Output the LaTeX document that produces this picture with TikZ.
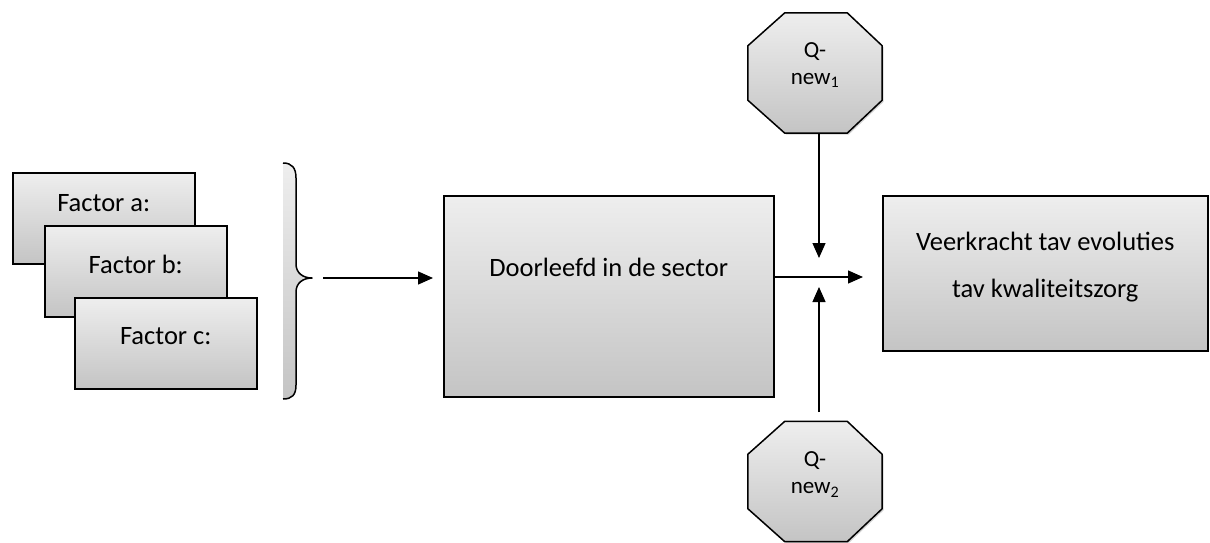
\documentclass[tikz,border=0pt]{standalone}
\usepackage{fontspec}
\setmainfont{Carlito}
\usetikzlibrary{arrows.meta,shadows}
\definecolor{boxtop}{RGB}{238,238,238}
\definecolor{boxbot}{RGB}{196,196,196}
\tikzset{
  panel/.style={draw=black, line width=1.5pt, top color=boxtop, bottom color=boxbot,
    drop shadow={shadow xshift=1.5pt, shadow yshift=-1.5pt, opacity=0.35},
    inner sep=0pt},
  factorbox/.style={panel, rectangle, minimum width=182pt, minimum height=91pt, anchor=north west},
  octoframe/.style={rectangle, minimum width=134pt, minimum height=120pt, inner sep=0pt},
  lbl/.style={font=\fontsize{26.5}{30}\selectfont, inner sep=0pt, align=center},
  qlbl/.style={font=\fontsize{23}{27}\selectfont, inner sep=0pt, align=center},
  link/.style={draw=black, line width=1.3pt, -{Triangle[length=15pt,width=13pt]}},
}
% octagon drawn around a named frame node
\newcommand{\octagonaround}[1]{%
  \draw[panel, line join=miter]
    ([xshift=37pt]#1.north west) -- ([xshift=-35pt]#1.north east)
    -- ([yshift=-33pt]#1.north east) -- ([yshift=33pt]#1.south east)
    -- ([xshift=-35pt]#1.south east) -- ([xshift=37pt]#1.south west)
    -- ([yshift=33pt]#1.south west) -- ([yshift=-33pt]#1.north west) -- cycle;}
\begin{document}
\begin{tikzpicture}[x=1pt,y=-1pt]
\useasboundingbox (0,0) rectangle (1210,543);

% stacked factor cards
\node[factorbox] (fa) at (12,172) {};
\node[lbl] (fat) at ([yshift=15.5pt]fa.center) {Factor a:};
\node[factorbox] (fb) at (44,225) {};
\node[lbl] (fbt) at ([yshift=7pt]fb.center) {Factor b:};
\node[factorbox] (fc) at (74,297) {};
\node[lbl] (fct) at ([yshift=7pt]fc.center) {Factor c:};

% curly brace gathering the factors
\path[top color=boxtop, bottom color=boxbot]
  (283,163) .. controls (292,163) and (296,168) .. (296,178) -- (296,264)
  .. controls (296,273) and (303,278) .. (312,278)
  .. controls (303,278) and (296,283) .. (296,292) -- (296,385)
  .. controls (296,395) and (292,399) .. (283,399) -- cycle;
\draw[line width=1.5pt, line join=round]
  (283,163) .. controls (292,163) and (296,168) .. (296,178) -- (296,264)
  .. controls (296,273) and (303,278) .. (312,278)
  .. controls (303,278) and (296,283) .. (296,292) -- (296,385)
  .. controls (296,395) and (292,399) .. (283,399);
\coordinate (bs) at (323,278);

% main process boxes
\node[panel, rectangle, minimum width=330pt, minimum height=201pt, anchor=north west] (door) at (443,195) {};
\node[lbl] (doort) at ([yshift=28.5pt]door.center) {Doorleefd in de sector};
\node[panel, rectangle, minimum width=325pt, minimum height=155pt, anchor=north west] (veer) at (882,195) {};
\node[lbl, font=\fontsize{26.5}{47}\selectfont] (veert) at ([yshift=6pt]veer.center)
  {Veerkracht tav evoluties\\tav kwaliteitszorg};

% moderating octagons
\node[octoframe] (q1) at (815,73) {};
\octagonaround{q1}
\node[qlbl] (q1t) at ([yshift=8pt]q1.center) {Q-\\new\textsubscript{1}};
\node[octoframe] (q2) at (815,481.5) {};
\octagonaround{q2}
\node[qlbl] (q2t) at ([yshift=7pt]q2.center) {Q-\\new\textsubscript{2}};

% connectors
\coordinate (hub) at (819,277);
\draw[link, shorten >=10pt] (bs) -- (bs -| door.west);
\draw[link] (hub -| door.east) -- ([xshift=-19pt]hub -| veer.west);
\draw[link] (hub |- q1.south) -- ([yshift=19pt]hub);
\coordinate (q2in) at (819,412);
\draw[link] (q2in) -- ([yshift=-10pt]hub);
\end{tikzpicture}
\end{document}
